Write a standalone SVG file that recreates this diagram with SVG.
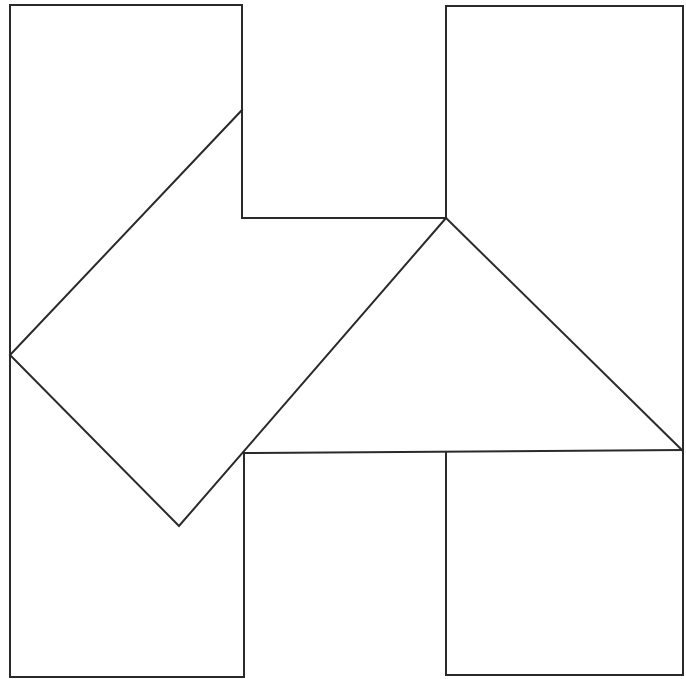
<svg xmlns="http://www.w3.org/2000/svg" width="686" height="679" viewBox="0 0 686 679">
<style>
.l{fill:none;stroke:#2a2a2a;stroke-width:2;stroke-linejoin:miter;stroke-linecap:square}
</style>
<rect width="686" height="679" fill="#ffffff"/>
<g id="shapes">
<path class="l" d="M10,5 L242,5 L242,218 L446,218"/>
<path class="l" d="M10,5 L10,677 L244,677 L244,453"/>
<path class="l" d="M242,110 L10,355 L179,526 L446,218"/>
<path class="l" d="M446,218 L446,6 L683,6 L683,675 L446,675 L446,452"/>
<path class="l" d="M446,218 L682,450"/>
<path class="l" d="M244,453 L683,450"/>
</g>
</svg>
